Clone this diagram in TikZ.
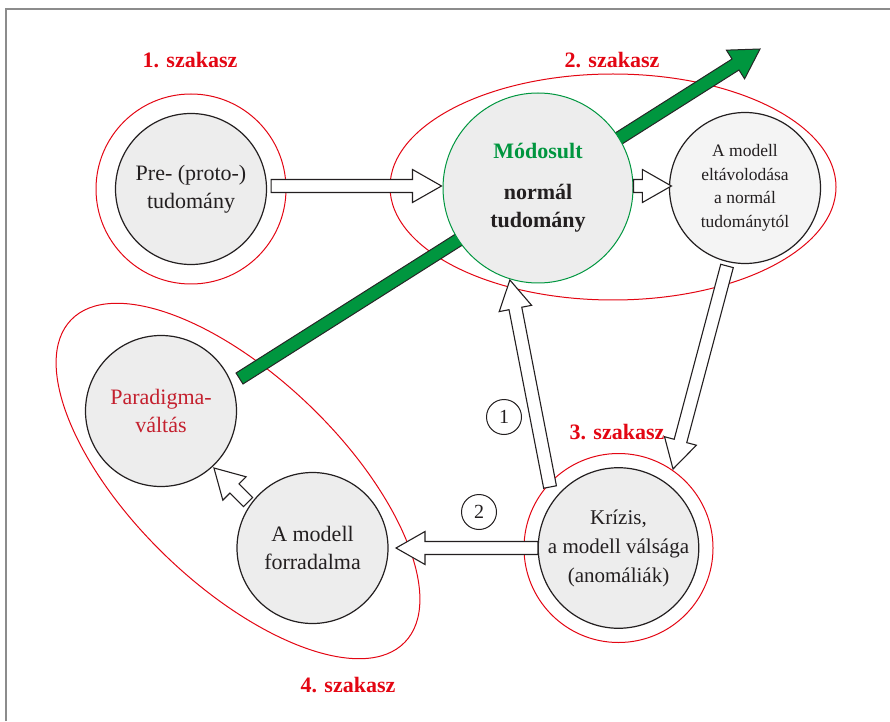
\documentclass[tikz,border=0pt]{standalone}
\usepackage{fontspec}
\setmainfont{Liberation Serif}
\newfontfamily\garafont{Liberation Serif}
\usetikzlibrary{calc,shapes.geometric}
\definecolor{szred}{HTML}{E30613}
\definecolor{pdred}{HTML}{C4202E}
\definecolor{grn}{HTML}{00963F}
\definecolor{cfill}{HTML}{EDEDED}
\definecolor{cfilllight}{HTML}{F4F4F4}
\definecolor{txt}{HTML}{231F20}
\definecolor{framegray}{HTML}{8C8C8C}
% style, half shaft width, half head width, head length, start, tip
\newcommand\blkarrow[6]{%
  \draw[#1] ($(#5)!#2!-90:(#6)$) -- ($(#6)!#4!(#5)!#2!90:(#5)$) --
    ($(#6)!#4!(#5)!#3!90:(#5)$) -- (#6) -- ($(#6)!#4!(#5)!#3!-90:(#5)$) --
    ($(#6)!#4!(#5)!#2!-90:(#5)$) -- ($(#5)!#2!90:(#6)$) -- cycle;}
\begin{document}
\begin{tikzpicture}[x=1pt,y=1pt,
  bubble/.style={circle, draw=txt, line width=1.2pt, fill=cfill, minimum size=151pt,
    inner sep=0pt, align=center, text=txt, font=\garafont\fontsize{22}{28}\selectfont},
  ring/.style={circle, draw=szred, line width=1pt, minimum size=#1, inner sep=0pt},
  phase/.style={text=szred, font=\garafont\fontsize{22}{26}\selectfont\bfseries},
  blockarr/.style={draw=txt, fill=white, line width=1.1pt, line join=miter},
  greenarr/.style={draw=black!85, fill=grn, line width=1pt, line join=miter},
  numc/.style={circle, draw=txt, fill=white, line width=1pt, minimum size=35pt,
    inner sep=0pt, text=txt, font=\garafont\fontsize{20}{20}\selectfont}]

\useasboundingbox (0,0) rectangle (890,721);
\draw[framegray, line width=2pt] (5.5,0) -- (5.5,712) -- (890,712);

% phase outlines
\node[ring=190pt] (prering) at (191,532) {};
\node[ellipse, draw=szred, line width=1pt, minimum width=446pt, minimum height=226pt, inner sep=0pt] (ph2) at (613,534) {};
\node[ellipse, draw=szred, line width=1pt, minimum width=464pt, minimum height=208pt, inner sep=0pt, rotate=-44] (ph4) at (238,240) {};
\node[ring=189pt] (krzring) at (618.5,173) {};

% green arrow
\coordinate (gs) at (239.5,342.5);
\coordinate (gt) at (760,672);
\blkarrow{greenarr}{6.5pt}{17pt}{29pt}{gs}{gt}

% circles
\node[bubble] (pre) at (191,532) {Pre- (proto-)\\tudomány};
\node[bubble, draw=grn, line width=1pt, minimum size=190pt, font=\garafont\fontsize{22}{28}\selectfont\bfseries] (mod) at (538,533)
  {\textcolor{grn}{Módosult}\\[13pt]normál\\tudomány};
\node[bubble, fill=cfilllight, font=\garafont\fontsize{17.5}{23.5}\selectfont] (elt) at (745,533)
  {A modell\\eltávolodása\\a normál\\tudománytól};
\node[bubble, text=pdred] (para) at (161,310) {Paradigma-\\váltás};
\node[bubble] (forr) at (312.5,173) {A modell\\forradalma};
\node[bubble, font=\garafont\fontsize{21}{29}\selectfont] (krz) at (618.5,173) {Krízis,\\a modell válsága\\(anomáliák)};

% block arrows
\coordinate (a1s) at ($(pre.east)+(4,3)$);
\coordinate (a1e) at ($(mod.west)+(-1,2)$);
\coordinate (a2s) at ($(mod.east)+(0,2)$);
\coordinate (a2e) at ($(elt.west)+(2.5,2)$);
\coordinate (a3s) at ($(elt.center)+(257:80)$);
\coordinate (a3e) at ($(krz.center)+(55.4:96)$);
\coordinate (a4s) at ($(krz.center)+(138.3:91.7)$);
\coordinate (a4e) at ($(mod.center)+(253:96.2)$);
\coordinate (a5s) at ($(krz.center)+(180:80.5)$);
\coordinate (a5e) at ($(forr.center)+(0:83.5)$);
\coordinate (a6s) at ($(forr.center)+(144.5:79.2)$);
\coordinate (a6e) at ($(para.center)+(-47.1:77.8)$);
\blkarrow{blockarr}{6.5pt}{16.5pt}{29pt}{a1s}{a1e}
\blkarrow{blockarr}{6.5pt}{16.5pt}{29pt}{a2s}{a2e}
\blkarrow{blockarr}{6.5pt}{16.5pt}{29pt}{a3s}{a3e}
\blkarrow{blockarr}{6.5pt}{16.5pt}{29pt}{a4s}{a4e}
\blkarrow{blockarr}{6.5pt}{16.5pt}{29pt}{a5s}{a5e}
\blkarrow{blockarr}{6.5pt}{16.5pt}{29pt}{a6s}{a6e}

% numbers
\node[numc] (n1) at (504,304) {1};
\node[numc] (n2) at (479,209) {2};

% phase labels
\node[phase] (l1) at (190,661) {1. szakasz};
\node[phase] (l2) at (612,661) {2. szakasz};
\node[phase] (l3) at (617,289) {3. szakasz};
\node[phase] (l4) at (348,36) {4. szakasz};
\end{tikzpicture}
\end{document}
